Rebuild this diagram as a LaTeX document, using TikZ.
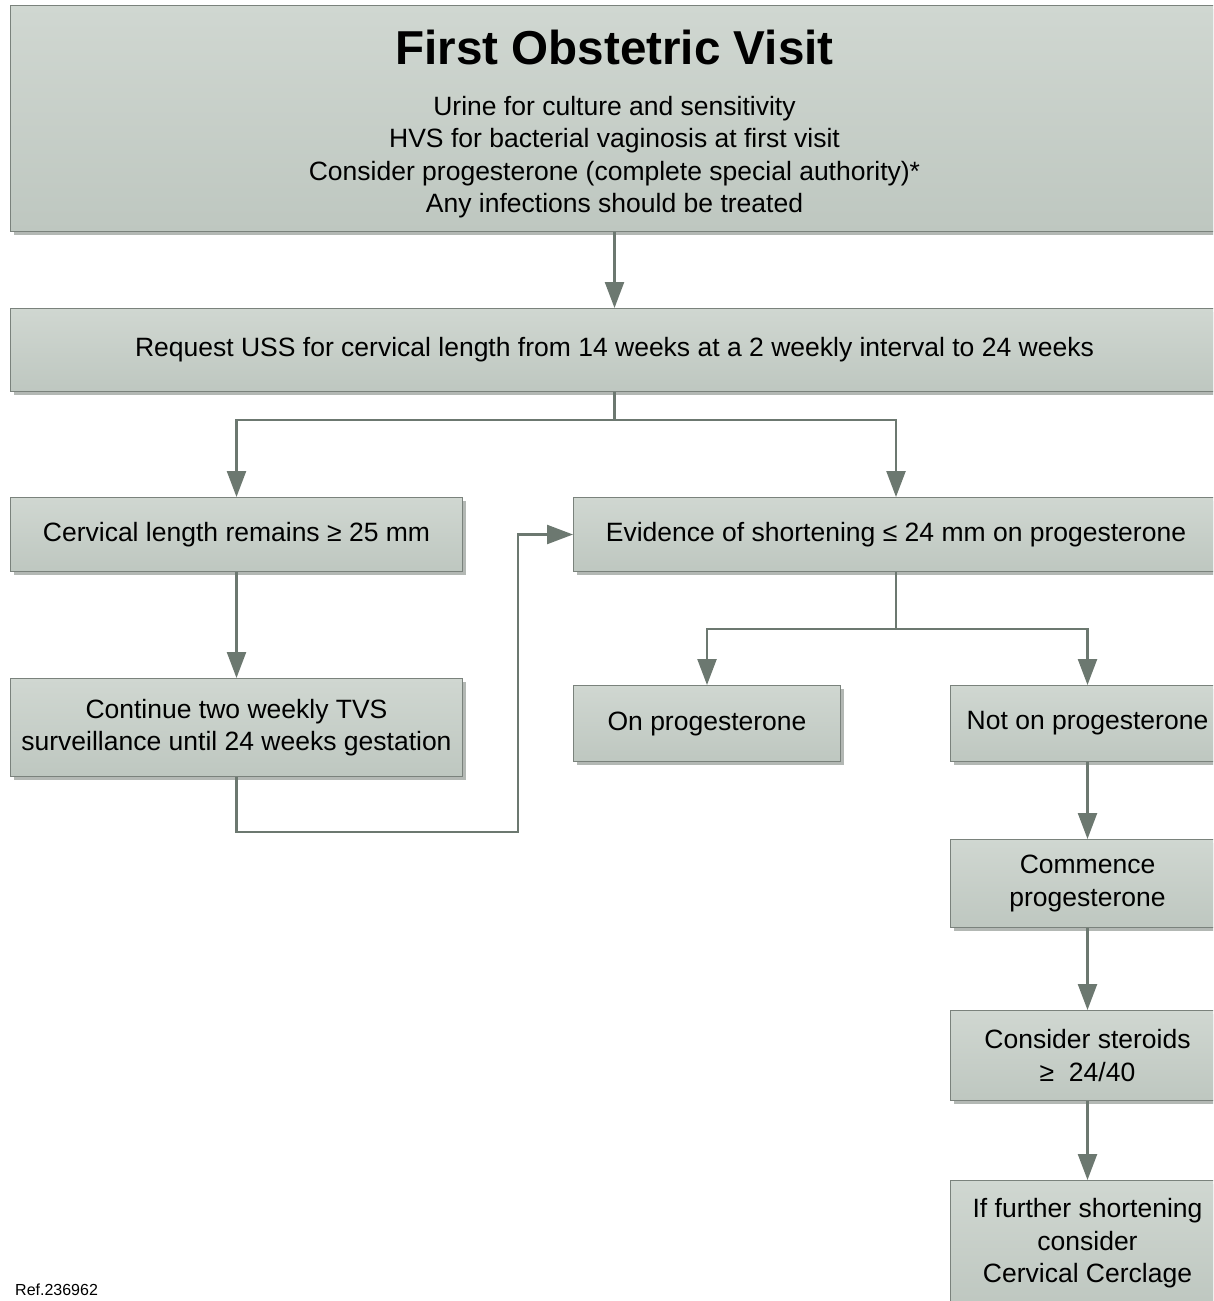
\documentclass[tikz,border=0pt]{standalone}
\usepackage{fontspec}
\setmainfont{Liberation Sans}
\usetikzlibrary{arrows.meta,positioning,shadows}

\definecolor{boxtop}{HTML}{D0D7D1}
\definecolor{boxbottom}{HTML}{BEC7C0}
\definecolor{boxline}{HTML}{7A827C}
\definecolor{boxshade}{HTML}{B3B8B4}
\definecolor{flow}{HTML}{6C7870}

\tikzset{
    stepbox/.style={draw=boxline, line width=1pt, top color=boxtop, bottom color=boxbottom,
        drop shadow={shadow xshift=3pt, shadow yshift=-3pt, fill=boxshade, opacity=1},
        align=center, inner sep=0pt, font=\fontsize{26.5}{32.5}\selectfont},
    flowline/.style={draw=flow, line width=2.4pt}
}

\begin{document}
\begin{tikzpicture}[x=1pt, y=-1pt, >={Triangle[length=26pt,width=19pt]}, node distance=77pt]

    \clip (0,0) rectangle (1213,1301);

    \node[stepbox, anchor=north west, minimum width=1208pt, minimum height=226pt] (visit) at (10,5)
        {{\fontsize{47.6}{52}\selectfont\bfseries\rule{0pt}{46pt}First Obstetric Visit}\\[18pt]
         Urine for culture and sensitivity\\
         HVS for bacterial vaginosis at first visit\\
         Consider progesterone (complete special authority)*\\
         Any infections should be treated};
    \node[stepbox, minimum width=1208pt, minimum height=83pt] (req) [below=76pt of visit]
        {Request USS for cervical length from 14 weeks at a 2 weekly interval to 24 weeks};
    \node[stepbox, anchor=north west, minimum width=452pt, minimum height=74pt] (cerv) at (10,497)
        {Cervical length remains ≥ 25 mm};
    \node[stepbox, anchor=north west, minimum width=645pt, minimum height=74pt] (evid) at (573,497)
        {Evidence of shortening ≤ 24 mm on progesterone};
    \node[stepbox, minimum width=452pt, minimum height=98pt] (cont) [below=106pt of cerv]
        {Continue two weekly TVS\\surveillance until 24 weeks gestation};
    \node[stepbox, anchor=north west, minimum width=267pt, minimum height=76pt] (onprog) at (573,685)
        {On progesterone};
    \node[stepbox, anchor=north west, minimum width=274pt, minimum height=76pt] (notprog) at (950,685)
        {Not on progesterone};
    \node[stepbox, minimum width=274pt, minimum height=88pt] (comm) [below=of notprog]
        {Commence\\progesterone};
    \node[stepbox, minimum width=274pt, minimum height=90pt] (ster) [below=82pt of comm]
        {Consider steroids\\≥\ \ 24/40};
    \node[stepbox, minimum width=274pt, minimum height=126pt] (furth) [below=79pt of ster]
        {If further shortening\\consider\\Cervical Cerclage};
    \node[anchor=west, inner sep=0pt, font=\fontsize{16}{19}\selectfont] (ref) at (15,1290) {Ref.236962};

    \coordinate (detour) at (518,832);

    \draw[flowline,->] (visit) -- (req);
    \draw[flowline,->] (req.south) -- ++(0,28) -| (cerv.north);
    \draw[flowline,->] (req.south) -- ++(0,28) -| (evid.north);
    \draw[flowline,->] (cerv) -- (cont);
    \draw[flowline,->] (cont.south) |- (detour) |- (evid.west);
    \draw[flowline,->] (evid.south) -- ++(0,57) -| (onprog.north);
    \draw[flowline,->] (evid.south) -- ++(0,57) -| (notprog.north);
    \draw[flowline,->] (notprog) -- (comm);
    \draw[flowline,->] (comm) -- (ster);
    \draw[flowline,->] (ster) -- (furth);

\end{tikzpicture}
\end{document}
